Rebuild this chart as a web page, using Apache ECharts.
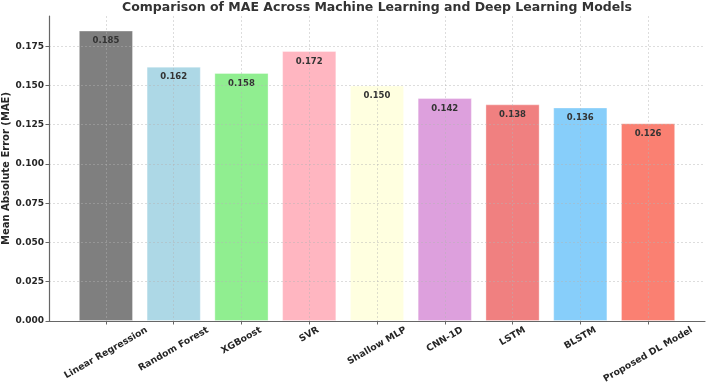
<!DOCTYPE html>
<html>
<head>
<meta charset="utf-8">
<script src="https://cdn.jsdelivr.net/npm/echarts@6/dist/echarts.min.js"></script>
<style>
  html, body { margin: 0; padding: 0; background: #fff; }
  #chart { width: 708px; height: 384px; }
</style>
</head>
<body>
<div id="chart"></div>
<script>
const models = ['Linear Regression', 'Random Forest', 'XGBoost', 'SVR', 'Shallow MLP', 'CNN-1D', 'LSTM', 'BLSTM', 'Proposed DL Model']
const maeValues = [0.185, 0.162, 0.158, 0.172, 0.150, 0.142, 0.138, 0.136, 0.126]
const barColors = ['#7f7f7f', '#add8e6', '#90ee90', '#ffb6c1', '#ffffe0', '#dda0dd', '#f08080', '#87cefa', '#fa8072']
const yTicks = [0, 0.025, 0.05, 0.075, 0.1, 0.125, 0.15, 0.175]
const xTicks = models.map((_, i) => i)

const font = 'DejaVu Sans'
const textColor = '#262626'
const axisColor = '#666'
const gridColor = 'rgba(180,180,180,0.45)'

// plot box like matplotlib: x from -0.84 to 8.84
const plotLeft = 49, plotRight = 705, plotTop = 16, plotBottom = 321
const xMin = -0.84, xMax = 8.84
const unit = (plotRight - plotLeft) / (xMax - xMin)
// label grid: category bands centred on the same ticks
const labLeft = plotLeft + (-0.5 - xMin) * unit
const labRight = labLeft + models.length * unit

// matplotlib centres rotated labels on the tick, with the box top under the axis.
// shift each label with rich padding (top padding only counts half, text is centred in the line)
const ctx = document.createElement('canvas').getContext('2d')
const xFont = 9.3
ctx.font = `bold ${xFont}px "${font}"`
const lh = 10
const rich = {}
models.forEach((m, i) => {
  const w = ctx.measureText(m).width
  const R = 0.25 * w + 0.433 * lh
  const p = Math.max(0, 2 * (0.866 * R - 0.5 * lh))
  rich['c' + i] = {
    fontFamily: font, fontSize: xFont, fontWeight: 'bold', color: textColor,
    lineHeight: lh, padding: [p, R, 0, 0]
  }
})

const title = 'Comparison of MAE Across Machine Learning and Deep Learning Models'
ctx.font = `bold 12.5px "${font}"`
const titleW = ctx.measureText(title).width

const chart = echarts.init(document.getElementById('chart'))
chart.setOption({
  animation: false,
  backgroundColor: '#fff',
  title: {
    text: title,
    left: 377 - titleW / 2,
    top: 1,
    padding: 0,
    textStyle: { fontFamily: font, fontSize: 12.5, fontWeight: 'bold', color: '#333' }
  },
  grid: [
    { left: plotLeft, right: 708 - plotRight, top: plotTop, bottom: 384 - plotBottom, outerBoundsMode: 'none', containLabel: false },
    { left: labLeft, right: 708 - labRight, top: plotTop, bottom: 384 - plotBottom, outerBoundsMode: 'none', containLabel: false }
  ],
  xAxis: [{
    type: 'value',
    gridIndex: 0,
    min: xMin,
    max: xMax,
    z: 3,
    axisLine: { onZero: false, lineStyle: { color: axisColor, width: 1.2 } },
    axisTick: { show: true, customValues: xTicks, length: 3.5, lineStyle: { color: axisColor } },
    axisLabel: { show: false, customValues: xTicks },
    splitLine: { show: true, lineStyle: { color: gridColor, type: [2, 2], width: 1 } }
  }, {
    type: 'category',
    gridIndex: 1,
    data: models,
    axisLine: { show: false },
    axisTick: { show: false },
    splitLine: { show: false },
    axisLabel: {
      interval: 0,
      rotate: 30,
      align: 'center',
      verticalAlign: 'top',
      margin: 4,
      formatter: (v, i) => `{c${i}|${v}}`,
      rich
    }
  }],
  yAxis: [{
    type: 'value',
    gridIndex: 0,
    min: 0,
    max: 0.19425,
    z: 3,
    name: 'Mean Absolute Error (MAE)',
    nameLocation: 'middle',
    nameGap: 38,
    nameMoveOverlap: false,
    nameTextStyle: { fontFamily: font, fontSize: 10, fontWeight: 'bold', color: textColor },
    axisLine: { show: true, onZero: false, lineStyle: { color: axisColor, width: 1.2 } },
    axisTick: { show: true, customValues: yTicks, length: 3.5, lineStyle: { color: axisColor } },
    axisLabel: {
      customValues: yTicks,
      margin: 5,
      fontFamily: font, fontSize: 9, fontWeight: 'bold', color: textColor,
      formatter: v => v.toFixed(3)
    },
    splitLine: { show: true, lineStyle: { color: gridColor, type: [2, 2], width: 1 } }
  }, {
    type: 'value',
    gridIndex: 1,
    show: false,
    min: 0,
    max: 0.19425,
    splitLine: { show: false }
  }],
  series: [{
    type: 'bar',
    xAxisIndex: 0,
    yAxisIndex: 0,
    barWidth: 0.8 * unit,
    data: maeValues.map((v, i) => ({
      value: [i, v],
      itemStyle: { color: barColors[i], borderColor: 'rgba(255,255,255,0.35)', borderWidth: 1 }
    })),
    label: {
      show: true,
      position: 'insideTop',
      distance: 6,
      fontFamily: font, fontSize: 8.5, fontWeight: 'bold', color: '#333',
      formatter: p => p.value[1].toFixed(3)
    }
  }]
})
</script>
</body>
</html>
